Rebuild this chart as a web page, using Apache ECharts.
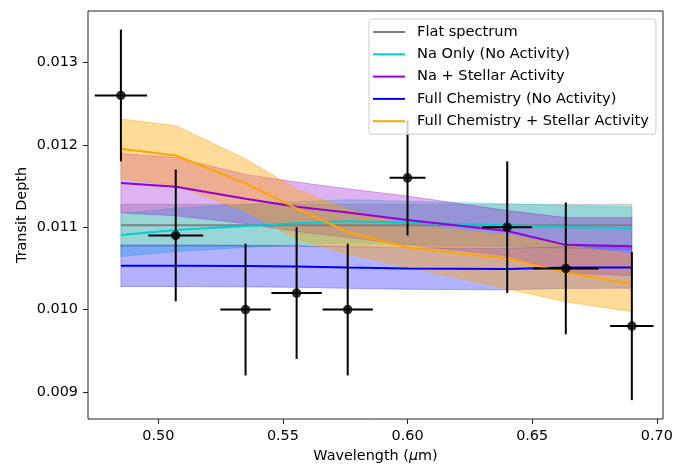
<!DOCTYPE html>
<html>
<head>
<meta charset="utf-8">
<script src="https://cdn.jsdelivr.net/npm/echarts@6/dist/echarts.min.js"></script>
<style>
html,body{margin:0;padding:0;background:#fff;}
#chart{width:691px;height:468px;}
</style>
</head>
<body>
<div id="chart"></div>
<script>
// ---- Data ----
const wavelength = [0.485, 0.507, 0.535, 0.5555, 0.576, 0.600, 0.640, 0.6635, 0.690];
const waveErr    = [0.0105, 0.011, 0.0101, 0.0101, 0.0101, 0.0072, 0.0100, 0.0132, 0.0087];
const depth      = [0.0126, 0.0109, 0.0100, 0.0102, 0.0100, 0.0116, 0.0110, 0.0105, 0.0098];
const depthErr   = [0.0008, 0.0008, 0.0008, 0.0008, 0.0008, 0.0007, 0.0008, 0.0008, 0.0009];

const modelWave = [0.485, 0.507, 0.535, 0.5555, 0.576, 0.600, 0.640, 0.6635, 0.690];

const flatMid = [0.011024, 0.011024, 0.011024, 0.011024, 0.011024, 0.011024, 0.011024, 0.011024, 0.011024];
const flatHi  = [0.011278, 0.011278, 0.011278, 0.011278, 0.011278, 0.011278, 0.011278, 0.011278, 0.011278];
const flatLo  = [0.010770, 0.010770, 0.010770, 0.010770, 0.010770, 0.010770, 0.010770, 0.010770, 0.010770];

const naMid = [0.010907, 0.010967, 0.011016, 0.011048, 0.011073, 0.011054, 0.011024, 0.011004, 0.010984];
const naHi  = [0.011169, 0.011229, 0.011278, 0.011310, 0.011335, 0.011316, 0.011286, 0.011266, 0.011246];
const naLo  = [0.010645, 0.010705, 0.010754, 0.010786, 0.010811, 0.010792, 0.010762, 0.010742, 0.010722];

const naActMid = [0.011536, 0.011492, 0.011347, 0.011250, 0.011178, 0.011088, 0.010955, 0.010786, 0.010770];
const naActHi  = [0.011895, 0.011847, 0.011641, 0.011548, 0.011466, 0.011379, 0.011202, 0.011117, 0.011117];
const naActLo  = [0.011177, 0.011138, 0.011045, 0.010948, 0.010875, 0.010786, 0.010653, 0.010447, 0.010411];

const fullMid = [0.010532, 0.010532, 0.010528, 0.010522, 0.010510, 0.010498, 0.010492, 0.010510, 0.010512];
const fullHi  = [0.010784, 0.010784, 0.010780, 0.010774, 0.010762, 0.010750, 0.010744, 0.010762, 0.010764];
const fullLo  = [0.010280, 0.010280, 0.010276, 0.010270, 0.010258, 0.010246, 0.010240, 0.010258, 0.010260];

const fullActMid = [0.011952, 0.011871, 0.011532, 0.011230, 0.010943, 0.010754, 0.010621, 0.010452, 0.010310];
const fullActHi  = [0.012315, 0.012234, 0.011831, 0.011460, 0.011218, 0.011024, 0.010903, 0.010782, 0.010673];
const fullActLo  = [0.011593, 0.011508, 0.011194, 0.010855, 0.010673, 0.010516, 0.010250, 0.010093, 0.009975];

const xTicks = [0.50, 0.55, 0.60, 0.65, 0.70];
const yTicks = [0.009, 0.010, 0.011, 0.012, 0.013];

const models = [
  {name: 'Flat spectrum', color: '#808080', fill: 'rgba(128,128,128,0.3)', mid: flatMid, lo: flatLo, hi: flatHi},
  {name: 'Na Only (No Activity)', color: '#00CED1', fill: 'rgba(0,206,209,0.3)', mid: naMid, lo: naLo, hi: naHi},
  {name: 'Na + Stellar Activity', color: '#9400D3', fill: 'rgba(148,0,211,0.3)', mid: naActMid, lo: naActLo, hi: naActHi},
  {name: 'Full Chemistry (No Activity)', color: '#0000FF', fill: 'rgba(0,0,255,0.3)', mid: fullMid, lo: fullLo, hi: fullHi},
  {name: 'Full Chemistry + Stellar Activity', color: '#FFA500', fill: 'rgba(255,165,0,0.4)', mid: fullActMid, lo: fullActLo, hi: fullActHi}
];

const FONT = 'DejaVu Sans';
const FS = 14.4;
const chart = echarts.init(document.getElementById('chart'), null, {renderer: 'canvas'});

const series = [];
models.forEach(function (m, k) {
  const lo = m.lo, hi = m.hi;
  series.push({
    type: 'custom',
    name: m.name + ' band',
    z: 1 + k * 0.01,
    silent: true,
    encode: {x: 0, y: [1, 2]},
    data: modelWave.map(function (x, i) { return [x, lo[i], hi[i]]; }),
    renderItem: function (params, api) {
      if (params.dataIndex !== 0) return null;
      const pts = [];
      for (let i = 0; i < modelWave.length; i++) pts.push(api.coord([modelWave[i], hi[i]]));
      for (let i = modelWave.length - 1; i >= 0; i--) pts.push(api.coord([modelWave[i], lo[i]]));
      return {
        type: 'polygon',
        shape: {points: pts},
        style: {fill: m.fill, stroke: m.fill, lineWidth: 1}
      };
    }
  });
});
models.forEach(function (m, k) {
  series.push({
    type: 'line',
    name: m.name,
    z: 2 + k * 0.01,
    showSymbol: false,
    symbol: 'none',
    color: m.color,
    lineStyle: {color: m.color, width: 2},
    data: modelWave.map(function (x, i) { return [x, m.mid[i]]; })
  });
});
series.push({
  type: 'custom',
  name: 'errorbars',
  z: 3,
  silent: true,
  encode: {x: 0, y: 1},
  data: wavelength.map(function (x, i) { return [x, depth[i], waveErr[i], depthErr[i]]; }),
  renderItem: function (params, api) {
    const x = api.value(0), y = api.value(1), xe = api.value(2), ye = api.value(3);
    const l = api.coord([x - xe, y]), r = api.coord([x + xe, y]);
    const t = api.coord([x, y + ye]), b = api.coord([x, y - ye]);
    const st = {stroke: '#000', lineWidth: 2};
    return {
      type: 'group',
      children: [
        {type: 'line', shape: {x1: l[0], y1: l[1], x2: r[0], y2: r[1]}, style: st},
        {type: 'line', shape: {x1: t[0], y1: t[1], x2: b[0], y2: b[1]}, style: st}
      ]
    };
  }
});
series.push({
  type: 'scatter',
  name: 'data',
  z: 4,
  symbol: 'circle',
  symbolSize: 9.5,
  itemStyle: {color: '#000'},
  data: wavelength.map(function (x, i) { return [x, depth[i]]; })
});

const option = {
  animation: false,
  backgroundColor: '#fff',
  textStyle: {fontFamily: FONT},
  grid: {left: 88, right: 28, top: 11, bottom: 48, show: true, borderColor: '#222', borderWidth: 1, backgroundColor: 'transparent'},
  legend: {
    data: models.map(function (m) { return m.name; }),
    orient: 'vertical',
    left: 369, top: 19,
    icon: 'rect',
    itemWidth: 32, itemHeight: 2,
    itemGap: 6.3,
    padding: [5, 7, 5, 4],
    backgroundColor: 'rgba(255,255,255,0.8)',
    borderColor: '#cccccc', borderWidth: 1, borderRadius: 3,
    textStyle: {fontFamily: FONT, fontSize: 14.6, color: '#000', lineHeight: 16, padding: [0, 0, 0, 7]},
    selectedMode: false,
    z: 10
  },
  xAxis: {
    type: 'value',
    min: 0.4718, max: 0.7025,
    name: 'Wavelength ({i|μ}m)',
    nameLocation: 'middle',
    nameGap: 30,
    nameTextStyle: {fontFamily: FONT, fontSize: FS, color: '#000', rich: {i: {fontFamily: FONT, fontStyle: 'italic', fontSize: FS, color: '#000'}}},
    axisLine: {show: false},
    axisTick: {show: true, length: 5, lineStyle: {color: '#222', width: 1}, customValues: xTicks},
    axisLabel: {margin: 10, fontFamily: FONT, fontSize: FS, color: '#000', customValues: xTicks, formatter: function (v) { return v.toFixed(2); }},
    splitLine: {show: false}
  },
  yAxis: {
    type: 'value',
    min: 0.008671, max: 0.013626,
    name: 'Transit Depth',
    nameLocation: 'middle',
    nameGap: 59,
    nameMoveOverlap: false,
    nameTextStyle: {fontFamily: FONT, fontSize: FS, color: '#000'},
    axisLine: {show: false},
    axisTick: {show: true, length: 5, lineStyle: {color: '#222', width: 1}, customValues: yTicks},
    axisLabel: {margin: 10, fontFamily: FONT, fontSize: FS, color: '#000', customValues: yTicks, formatter: function (v) { return v.toFixed(3); }},
    splitLine: {show: false}
  },
  series: series
};
chart.setOption(option);
</script>
</body>
</html>
